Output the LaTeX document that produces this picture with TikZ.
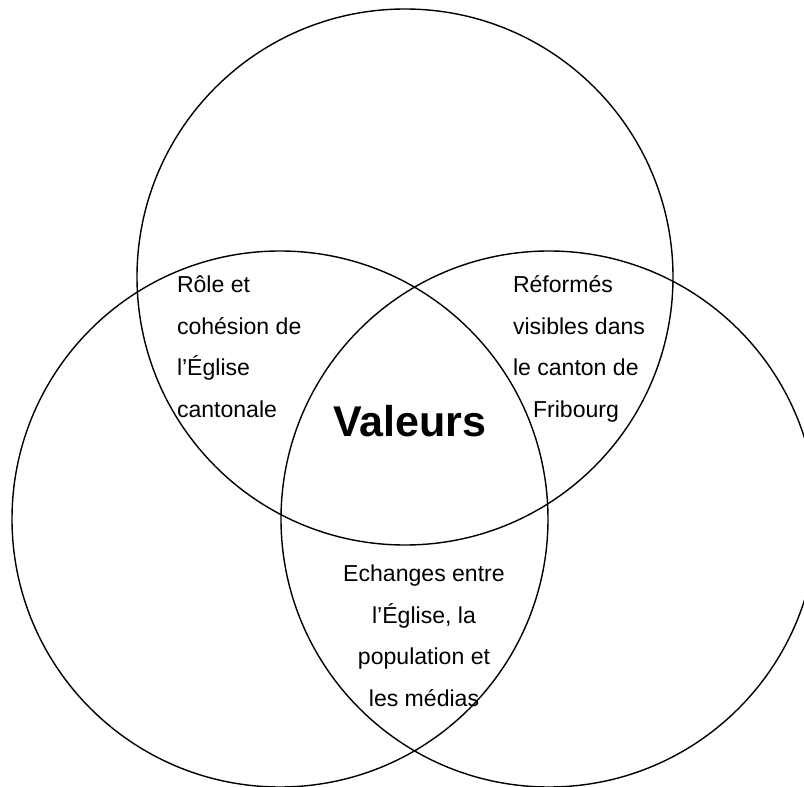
\documentclass[tikz,border=0pt]{standalone}
\usepackage{fontspec}
\setmainfont{Liberation Sans}
\usetikzlibrary{positioning}

\tikzset{
  zone/.style={draw=black, line width=1pt},
  zonetext/.style={inner sep=0, outer sep=0, font=\fontsize{16.4}{29.5}\selectfont},
}

\begin{document}
\begin{tikzpicture}[x=0.025cm, y=-0.025cm]
    \useasboundingbox (0,0) rectangle (804, 787);
    \clip (0,0) rectangle (804, 787);
    \draw[zone] (405, 277) circle[radius=268];
    \draw[zone] (280, 519) circle[radius=268];
    \draw[zone] (549, 519) circle[radius=268];
    \node[zonetext, align=left, anchor=north west] (eglise) at (177, 276) {R\^ole et\\coh\'esion de\\l’\'Eglise\\cantonale};
    \node[zonetext, align=left, anchor=north west] (canton) at (513, 276) {R\'eform\'es\\visibles dans\\le canton de\\\hspace*{0.87em}Fribourg};
    \node[zonetext, align=center, anchor=north] (echanges) at (424, 565) {Echanges entre\\l’\'Eglise, la\\population et\\les m\'edias};
    \node[inner sep=0, anchor=base, font=\fontsize{30.6}{36}\selectfont\bfseries] (valeurs) at (410, 437) {Valeurs};
\end{tikzpicture}
\end{document}
